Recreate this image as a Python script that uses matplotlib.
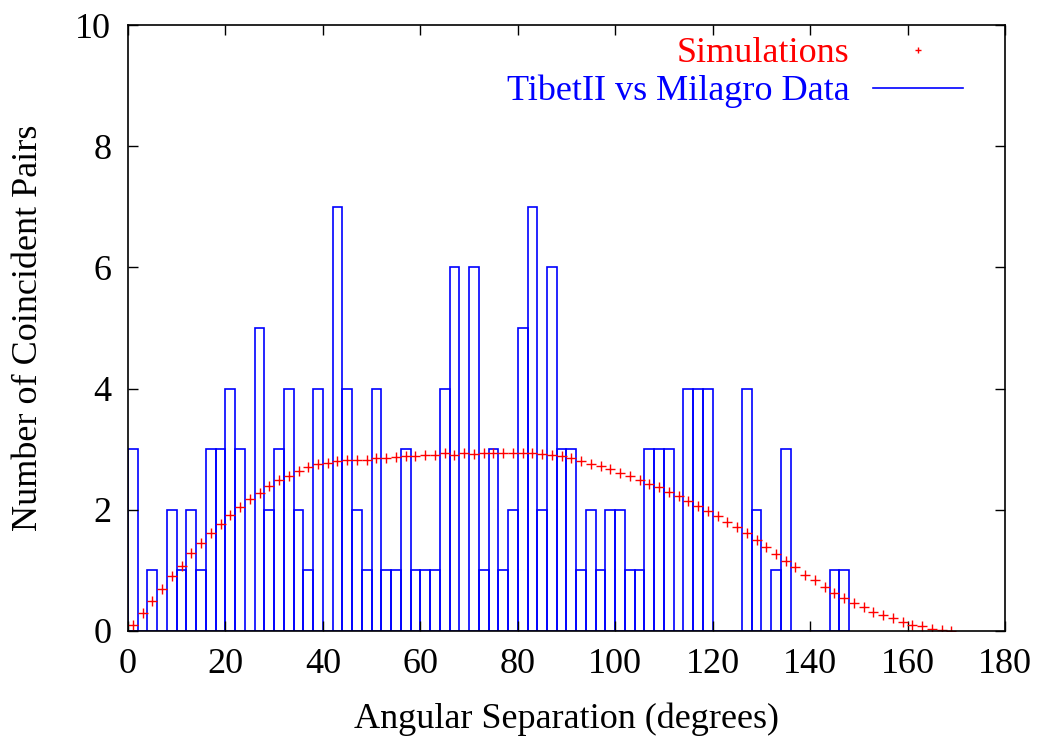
import matplotlib.pyplot as plt
from matplotlib.lines import Line2D

# TibetII vs Milagro coincident pairs, 2 degree bins starting at 0
bin_width = 2
data_counts = [3, 0, 1, 0, 2, 1, 2, 1, 3, 3, 4, 3, 0, 5, 2, 3, 4, 2, 1, 4,
               0, 7, 4, 2, 1, 4, 1, 1, 3, 1, 1, 1, 4, 6, 0, 6, 1, 3, 1, 2,
               5, 7, 2, 6, 3, 3, 1, 2, 1, 2, 2, 1, 1, 3, 3, 3, 0, 4, 4, 4,
               0, 0, 0, 4, 2, 0, 1, 3, 0, 0, 0, 0, 1, 1]
bin_edges = [i * bin_width for i in range(len(data_counts))]

# simulation points (bin centres)
sim_x = list(range(1, 170, 2))
sim_y = [0.10, 0.30, 0.50, 0.70, 0.90, 1.08, 1.28, 1.45, 1.62, 1.77,
         1.91, 2.05, 2.17, 2.28, 2.39, 2.49, 2.56, 2.64, 2.70, 2.75,
         2.78, 2.81, 2.83, 2.82, 2.83, 2.85, 2.86, 2.87, 2.89, 2.89,
         2.91, 2.91, 2.93, 2.91, 2.93, 2.92, 2.93, 2.93, 2.94, 2.93,
         2.94, 2.94, 2.92, 2.90, 2.89, 2.86, 2.80, 2.76, 2.72, 2.67,
         2.61, 2.56, 2.50, 2.43, 2.38, 2.29, 2.22, 2.15, 2.06, 1.98,
         1.90, 1.80, 1.71, 1.61, 1.50, 1.39, 1.27, 1.16, 1.05, 0.93,
         0.84, 0.73, 0.63, 0.55, 0.47, 0.39, 0.31, 0.26, 0.21, 0.15,
         0.10, 0.08, 0.04, 0.02, 0.0]

x_ticks = list(range(0, 181, 20))
y_ticks = list(range(0, 11, 2))

plt.rcParams['font.family'] = ['Liberation Serif', 'DejaVu Serif']

fig = plt.figure(figsize=(10.38, 7.40), dpi=100)
ax = fig.add_axes([0.1233, 0.1473, 0.8449, 0.8189])

ax.bar(bin_edges, data_counts, width=bin_width, align='edge', fill=False,
       edgecolor='#0000ff', linewidth=1.2)
ax.plot(sim_x, sim_y, linestyle='none', marker='+', color='#ff0000',
        markersize=6.5, markeredgewidth=1.0)

ax.set_xlim(0, 180)
ax.set_ylim(0, 10)
ax.set_xticks(x_ticks)
ax.set_yticks(y_ticks)
ax.tick_params(direction='in', top=True, right=True, length=7, width=1,
               labelsize=26, pad=12)
for s in ax.spines.values():
    s.set_linewidth(1.2)

ax.set_xlabel('Angular Separation (degrees)', fontsize=26, labelpad=16)
ax.set_ylabel('Number of Coincident Pairs', fontsize=26, labelpad=22)

handles = [Line2D([], [], linestyle='none', marker='+', color='#ff0000',
                  markersize=5, markeredgewidth=1.0),
           Line2D([], [], color='#0000ff', linewidth=1.2)]
ax.legend(handles, ['Simulations', 'TibetII vs Milagro Data'],
          loc='upper right', frameon=False, markerfirst=False,
          labelcolor=['#ff0000', '#0000ff'], fontsize=26, handlelength=2.5,
          handletextpad=0.65, labelspacing=0.12, borderaxespad=0.0,
          bbox_to_anchor=(0.969, 1.004))

fig.savefig('out.png', dpi=100)
